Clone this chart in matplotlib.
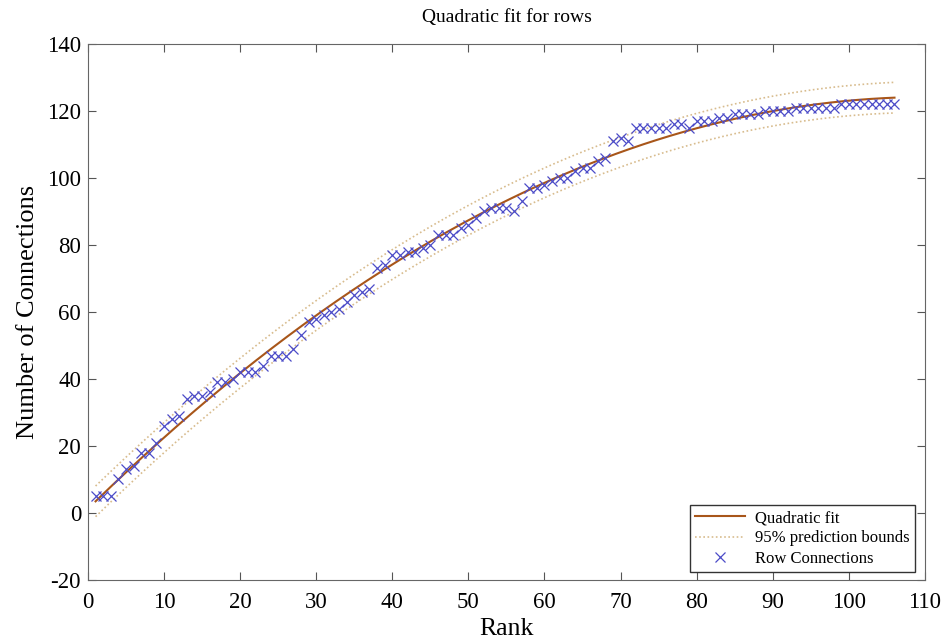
import numpy as np
import matplotlib
matplotlib.use("Agg")
import matplotlib.pyplot as plt

# row connections per rank
rank = np.arange(1, 107)
connections = np.array([
    5, 5, 5, 10, 13, 14, 18, 18, 21, 26,
    28, 29, 34, 35, 35, 36, 39, 39, 40, 42,
    42, 42, 44, 47, 47, 47, 49, 53, 57, 58,
    59, 60, 61, 63, 65, 66, 67, 73, 74, 77,
    77, 78, 78, 79, 80, 83, 83, 83, 85, 86,
    88, 90, 91, 91, 91, 90, 93, 97, 97, 98,
    99, 100, 100, 102, 103, 103, 105, 106, 111, 112,
    111, 115, 115, 115, 115, 115, 116, 116, 115, 117,
    117, 117, 118, 118, 119, 119, 119, 119, 120, 120,
    120, 120, 121, 121, 121, 121, 121, 121, 122, 122,
    122, 122, 122, 122, 122, 122], dtype=float)

# quadratic least squares fit + 95% prediction bounds
X = np.vstack([rank**2, rank, np.ones_like(rank)]).T
coef, res, _, _ = np.linalg.lstsq(X, connections, rcond=None)
dof = len(rank) - 3
s = np.sqrt(np.sum((connections - X @ coef)**2) / dof)
t = 1.9833  # t(0.975, 103)
XtX_inv = np.linalg.inv(X.T @ X)

xf = np.linspace(1, 106, 300)
Xf = np.vstack([xf**2, xf, np.ones_like(xf)]).T
yf = Xf @ coef
delta = t * s * np.sqrt(1 + np.sum((Xf @ XtX_inv) * Xf, axis=1))

plt.rcParams['font.family'] = ['Liberation Serif', 'DejaVu Serif']
plt.rcParams['axes.unicode_minus'] = False

fig = plt.figure(figsize=(9.5, 6.43), dpi=100)
ax = fig.add_axes([0.0926, 0.098, 0.881, 0.8336])

ax.plot(xf, yf, color='#a8561a', lw=1.5, label='Quadratic fit')
ax.plot(xf, yf + delta, color='#d8bc8e', lw=1.2, ls=(0, (1, 1.5)),
        label='95% prediction bounds')
ax.plot(xf, yf - delta, color='#d8bc8e', lw=1.2, ls=(0, (1, 1.5)))
ax.plot(rank, connections, 'x', color='#4b4bc8', ms=7, mew=0.9,
        label='Row Connections')

ax.set_xlim(0, 110)
ax.set_ylim(-20, 140)
ax.set_xticks(range(0, 111, 10))
ax.set_yticks(range(-20, 141, 20))
ax.tick_params(direction='in', top=True, right=True, labelsize=16.5,
               length=6, color='#555555')
ax.tick_params(axis='x', pad=9)
ax.tick_params(axis='y', pad=5)
for sp in ax.spines.values():
    sp.set_color('#666666')

ax.set_xlabel('Rank', fontsize=18.5, labelpad=3)
ax.set_ylabel('Number of Connections', fontsize=19, labelpad=6)
ax.set_title('Quadratic fit for rows', fontsize=14, pad=16)

leg = ax.legend(loc='lower right', fontsize=12, fancybox=False,
                framealpha=1, edgecolor='#333333', borderpad=0.3,
                labelspacing=0.25, handlelength=3.0, handletextpad=0.6,
                bbox_to_anchor=(0.998, 0.0))
leg.get_frame().set_linewidth(1.0)

fig.savefig('out.png', dpi=100)
